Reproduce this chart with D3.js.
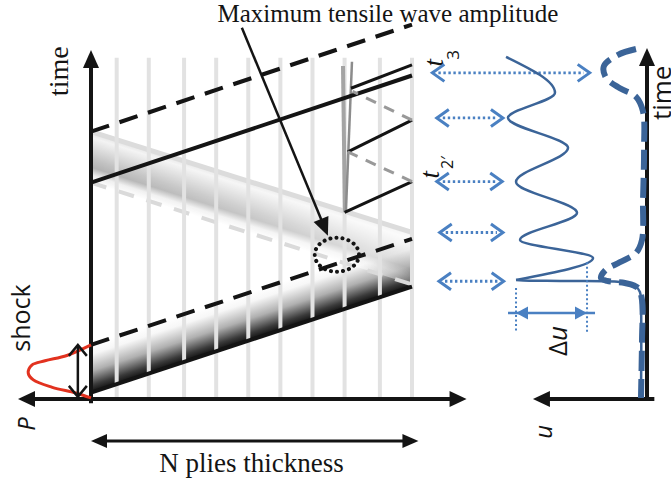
<!DOCTYPE html>
<html><head><meta charset="utf-8">
<script src="https://cdn.jsdelivr.net/npm/d3@7"></script>
<style>html,body{margin:0;padding:0;background:#fff;} svg{display:block;}</style>
</head><body>
<svg id="chart" width="671" height="480"></svg>
<script>
// Ply interfaces through the laminate thickness (0 = impacted face, 1 = rear face)
const plyInterfaces = [0.08, 0.18, 0.29, 0.39, 0.49, 0.59, 0.69, 0.79, 0.90, 1.0];

// Wave fronts in the thickness–time plane, as [depth, time]
const shockFront    = [[0, 0.06], [1, 1.06]];
const shockTail     = [[0, 0.51], [1, 1.51]];
const reflectedHead = [[0, 2.52], [1, 1.57]];
const reflectedTail = [[0, 2.04], [1, 1.08]];
const secondFront   = [[0, 2.04], [1, 3.05]];
const secondTail    = [[0, 2.52], [1, 3.53]];
const zigzagSolid   = [[[0.79, 1.76], [1, 2.05]], [[0.80, 2.33], [1, 2.63]], [[0.81, 2.93], [1, 3.15]]];
const zigzagDashed  = [[[1, 2.05], [0.80, 2.33]], [[1, 2.63], [0.815, 2.90]]];
const crackLines    = [[[0.785, 3.14], [0.791, 1.76]], [[0.813, 3.18], [0.794, 1.76]]];
const maxTension    = {depth: 0.766, time: 1.36, rDepth: 0.069, rTime: 0.16};

// Impact pressure pulse, as [pressure, time]
const pressurePulse = [[0, 0.51], [0.33, 0.41], [0.63, 0.36], [0.81, 0.32], [0.86, 0.245],
                       [0.79, 0.18], [0.53, 0.11], [0.21, 0.057], [0, 0.01]];

// Rear-face displacement history, as [u, time]
const rearDisplacement = [[0.959, 3.226], [0.626, 2.887], [0.946, 2.651], [0.537, 2.368], [0.891, 2.047],
                          [0.476, 1.755], [0.864, 1.50], [0.367, 1.33], [0.891, 1.123]];
const rearDisplacementTail = [[0.891, 1.123], [0.80, 1.116], [0.592, 1.113], [0.184, 1.104], [0.088, 1.075],
                              [0.048, 1.009], [0.041, 0.887], [0.041, 0.009]];
const damagedDisplacement = [[0.075, 3.30], [0.197, 3.245], [0.293, 3.14], [0.279, 3.03], [0.184, 2.93],
                             [0.075, 2.85], [0.027, 2.71], [0.020, 2.35], [0.027, 1.877], [0.034, 1.50],
                             [0.075, 1.377], [0.184, 1.29], [0.286, 1.21], [0.313, 1.14], [0.272, 1.113],
                             [0.15, 1.094], [0.061, 1.047], [0.034, 0.934], [0.034, 0.557], [0.041, 0.01]];

// Arrival times at the rear face linked to the displacement features
const arrivals = [
  {time: 3.075, from: 1.46, to: 0.39},
  {time: 2.65,  from: 1.43, to: 0.98},
  {time: 2.05,  from: 1.43, to: 0.985},
  {time: 1.57,  from: 1.41, to: 0.98},
  {time: 1.11,  from: 1.415, to: 0.975}
];
const deltaU = {from: 0.891, to: 0.408, time: 0.81, top1: 1.047, top2: 1.29, bottom: 0.63};

// Pick the first installed serif face (measured against a monospace fallback)
function firstInstalled(cands, generic) {
  const ctx = document.createElement('canvas').getContext('2d');
  const probe = 'Maximum tensile wave amplitude Wiggly 0123';
  ctx.font = '40px monospace';
  const base = ctx.measureText(probe).width;
  for (const c of cands) {
    ctx.font = `40px "${c}", monospace`;
    if (Math.abs(ctx.measureText(probe).width - base) > 0.5) return `"${c}", ${generic}`;
  }
  return generic;
}
const SERIF = firstInstalled(['Liberation Serif', 'Tinos', 'Times New Roman', 'Times', 'DejaVu Serif',
                              'Noto Serif', 'FreeSerif', 'Nimbus Roman', 'Nimbus Roman No9 L'], 'serif');
const SANS = '"Open Sans", "Liberation Sans", sans-serif';

// Scales
const x = d3.scaleLinear().domain([0, 1]).range([91, 412]);     // depth
const y = d3.scaleLinear().domain([0, 3.3]).range([399, 49]);   // time
const p = d3.scaleLinear().domain([0, 1]).range([91, 18]);      // pressure (points left)
const u = d3.scaleLinear().domain([0, 1]).range([647, 500]);    // displacement (points left)

const svg = d3.select('#chart');
const defs = svg.append('defs');
const INK = '#141414';
const BLUE = '#4a80c2';
const DARKBLUE = '#3b6498';

const px = d => [x(d[0]), y(d[1])];
const segLine = d3.line().x(d => x(d[0])).y(d => y(d[1]));

function bandGradient(id, top, bot, stops) {
  const a = px(top[0]), b = px(top[1]), c = px(bot[0]), d = px(bot[1]);
  const m = [(a[0] + b[0]) / 2, (a[1] + b[1]) / 2];
  const L = Math.hypot(d[0] - c[0], d[1] - c[1]);
  const ux = (d[0] - c[0]) / L, uy = (d[1] - c[1]) / L;
  const t = (m[0] - c[0]) * ux + (m[1] - c[1]) * uy;
  const f = [c[0] + ux * t, c[1] + uy * t];
  const g = defs.append('linearGradient').attr('id', id).attr('gradientUnits', 'userSpaceOnUse')
    .attr('x1', m[0]).attr('y1', m[1]).attr('x2', f[0]).attr('y2', f[1]);
  stops.forEach(s => g.append('stop').attr('offset', s[0]).attr('stop-color', s[1]));
}

function band(top, bot, fill, mask) {
  const pts = [px(top[0]), px(top[1]), px(bot[1]), px(bot[0])];
  const b = svg.append('path').attr('d', d3.line()(pts) + 'Z').attr('fill', fill);
  if (mask) b.attr('mask', mask);
}

function head(tip, from, len, half, color) {
  const L = Math.hypot(tip[0] - from[0], tip[1] - from[1]);
  const dx = (tip[0] - from[0]) / L, dy = (tip[1] - from[1]) / L;
  const bx = tip[0] - dx * len, by = tip[1] - dy * len;
  svg.append('path')
    .attr('d', `M${tip[0]},${tip[1]}L${bx - dy * half},${by + dx * half}L${bx + dy * half},${by - dx * half}Z`)
    .attr('fill', color);
}

function chevron(tip, from, len, half, color, w) {
  const L = Math.hypot(tip[0] - from[0], tip[1] - from[1]);
  const dx = (tip[0] - from[0]) / L, dy = (tip[1] - from[1]) / L;
  const bx = tip[0] - dx * len, by = tip[1] - dy * len;
  svg.append('path')
    .attr('d', `M${bx - dy * half},${by + dx * half}L${tip[0]},${tip[1]}L${bx + dy * half},${by - dx * half}`)
    .attr('fill', 'none').attr('stroke', color).attr('stroke-width', w)
    .attr('stroke-linejoin', 'miter').attr('stroke-linecap', 'butt');
}

function vtext(cx, cy, parts, anchor) {
  const t = svg.append('text').attr('transform', `translate(${cx},${cy}) rotate(-90)`)
    .attr('text-anchor', anchor || 'middle').attr('fill', INK);
  parts.forEach(pt => t.append('tspan').text(pt.s).style('font-family', pt.f).attr('font-size', pt.size)
    .attr('font-style', pt.it ? 'italic' : 'normal'));
  return t;
}

// Compressive shock band and reflected tensile band
bandGradient('gShock', shockTail, shockFront,
  [[0, '#ffffff'], [0.2, '#f7f7f7'], [0.55, '#b0b0b0'], [0.85, '#3a3a3a'], [1, '#101010']]);
bandGradient('gRefl', reflectedHead, reflectedTail,
  [[0, '#e0e0e0'], [0.12, '#f3f3f3'], [0.55, '#c0c0c0'], [0.7, '#b2b2b2'], [0.85, '#efefef'], [1, '#ffffff']]);
const fade = defs.append('linearGradient').attr('id', 'gFade').attr('gradientUnits', 'userSpaceOnUse')
  .attr('x1', x(0)).attr('x2', x(1)).attr('y1', 0).attr('y2', 0);
fade.append('stop').attr('offset', 0).attr('stop-color', '#fff');
fade.append('stop').attr('offset', 0.5).attr('stop-color', '#bbb');
fade.append('stop').attr('offset', 1).attr('stop-color', '#555');
defs.append('mask').attr('id', 'mFade').attr('maskUnits', 'userSpaceOnUse')
  .attr('x', 0).attr('y', 0).attr('width', 671).attr('height', 480)
  .append('rect').attr('x', 0).attr('y', 0).attr('width', 671).attr('height', 480).attr('fill', 'url(#gFade)');

band(shockTail, shockFront, 'url(#gShock)');
band(reflectedHead, reflectedTail, 'url(#gRefl)', 'url(#mFade)');
svg.append('path').attr('d', segLine(reflectedHead)).attr('stroke', '#dcdcdc').attr('stroke-width', 5).attr('fill', 'none');
svg.append('path').attr('d', segLine(reflectedTail)).attr('stroke', '#dadada').attr('stroke-width', 4)
  .attr('stroke-dasharray', '16,13').attr('fill', 'none');

// Ply interfaces
svg.selectAll('line.ply').data(plyInterfaces).join('line').attr('class', 'ply')
  .attr('x1', d => x(d)).attr('x2', d => x(d)).attr('y1', y(3.217)).attr('y2', y(0))
  .attr('stroke', '#e2e2e2').attr('stroke-width', 4);

// Delamination traces
svg.append('path').attr('d', segLine(crackLines[0])).attr('stroke', '#a4a4a4').attr('stroke-width', 4).attr('fill', 'none');
svg.append('path').attr('d', segLine(crackLines[1])).attr('stroke', '#8c8c8c').attr('stroke-width', 2.5).attr('fill', 'none');

// Wave fronts
const solid = (d, w) => svg.append('path').attr('d', segLine(d)).attr('stroke', INK).attr('stroke-width', w).attr('fill', 'none');
const dashed = (d, w, col, dash) => svg.append('path').attr('d', segLine(d)).attr('stroke', col).attr('stroke-width', w)
  .attr('stroke-dasharray', dash).attr('fill', 'none');
solid(shockFront, 4);
dashed(shockTail, 4, INK, '19,11');
solid(secondFront, 4);
dashed(secondTail, 4, INK, '19,11');
zigzagSolid.forEach(s => solid(s, 3));
zigzagDashed.forEach(s => dashed(s, 3, '#999999', '11,9'));

// Point of maximum tensile amplitude
svg.append('ellipse')
  .attr('cx', x(maxTension.depth)).attr('cy', y(maxTension.time))
  .attr('rx', x(maxTension.depth + maxTension.rDepth) - x(maxTension.depth))
  .attr('ry', y(maxTension.time) - y(maxTension.time + maxTension.rTime))
  .attr('fill', 'none').attr('stroke', INK).attr('stroke-width', 4)
  .attr('stroke-dasharray', '0.1,6').attr('stroke-linecap', 'round');

// Left axes
svg.append('line').attr('x1', x(0)).attr('x2', x(0)).attr('y1', y(-0.04)).attr('y2', y(3.2))
  .attr('stroke', INK).attr('stroke-width', 4);
head([x(0), y(3.29)], [x(0), y(0)], 18, 8, INK);
svg.append('line').attr('x1', p(0.9)).attr('x2', x(1.12)).attr('y1', y(0)).attr('y2', y(0))
  .attr('stroke', INK).attr('stroke-width', 4);
head([p(1), y(0)], [x(0), y(0)], 17, 8, INK);
head([x(1.17), y(0)], [x(0), y(0)], 17, 8, INK);

// Thickness dimension
const dimY = y(-0.396);
svg.append('line').attr('x1', x(0.04)).attr('x2', x(0.98)).attr('y1', dimY).attr('y2', dimY)
  .attr('stroke', INK).attr('stroke-width', 3);
head([x(0), dimY], [x(1), dimY], 16, 7, INK);
head([x(1.02), dimY], [x(0), dimY], 16, 7, INK);

// Impact pressure pulse
svg.append('path')
  .attr('d', d3.line().x(d => p(d[0])).y(d => y(d[1])).curve(d3.curveCatmullRom.alpha(0.5))(pressurePulse))
  .attr('fill', 'none').attr('stroke', '#e2321f').attr('stroke-width', 3);
const pa = p(0.18);
svg.append('line').attr('x1', pa).attr('x2', pa).attr('y1', y(0.5)).attr('y2', y(0.03))
  .attr('stroke', INK).attr('stroke-width', 2.5);
chevron([pa, y(0.51)], [pa, y(0)], 11, 9, INK, 2.5);
chevron([pa, y(0.02)], [pa, y(1)], 11, 9, INK, 2.5);

// Annotation
const aFrom = [x(0.47), y(3.5)], aTip = [x(0.738), y(1.54)];
const aL = Math.hypot(aTip[0] - aFrom[0], aTip[1] - aFrom[1]);
svg.append('line').attr('x1', aFrom[0]).attr('y1', aFrom[1])
  .attr('x2', aTip[0] - (aTip[0] - aFrom[0]) / aL * 12).attr('y2', aTip[1] - (aTip[1] - aFrom[1]) / aL * 12)
  .attr('stroke', INK).attr('stroke-width', 2.5);
head(aTip, aFrom, 18, 8, INK);
svg.append('text').attr('x', x(0.925)).attr('y', y(3.556)).attr('text-anchor', 'middle')
  .style('font-family', SERIF).attr('font-size', 25).attr('fill', INK).text('Maximum tensile wave amplitude');

// Labels on the thickness–time plane
vtext(x(-0.072), y(3.09), [{s: 'time', f: SERIF, size: 28}]);
vtext(p(0.836), y(0.764), [{s: 'shock', f: SANS, size: 25}]);
vtext(p(0.767), y(-0.236), [{s: 'P', f: SANS, size: 24, it: true}]);
svg.append('text').attr('x', x(0.5)).attr('y', y(-0.69)).attr('text-anchor', 'middle')
  .style('font-family', SERIF).attr('font-size', 27).attr('fill', INK).text('N plies thickness');
vtext(x(1.097), y(3.17), [{s: 't', f: SERIF, size: 27, it: true}]);
vtext(x(1.146), y(3.245), [{s: '3', f: SANS, size: 17}]);
vtext(x(1.084), y(2.115), [{s: 't', f: SERIF, size: 27, it: true}]);
vtext(x(1.128), y(2.23), [{s: '2\u2032', f: SANS, size: 16}]);

// Arrival links between the two panels
arrivals.forEach(a => {
  const yy = y(a.time), x0 = u(a.from), x1 = u(a.to);
  svg.append('line').attr('x1', x0 + 6).attr('x2', x1 - 6).attr('y1', yy).attr('y2', yy)
    .attr('stroke', BLUE).attr('stroke-width', 2.8).attr('stroke-dasharray', '2.4,2.6');
  chevron([x0, yy], [x1, yy], 12, 8.5, BLUE, 3);
  chevron([x1, yy], [x0, yy], 12, 8.5, BLUE, 3);
});

// Rear-face displacement panel axes
svg.append('line').attr('x1', u(0)).attr('x2', u(0)).attr('y1', y(-0.01)).attr('y2', y(3.2))
  .attr('stroke', INK).attr('stroke-width', 4);
head([u(0), y(3.31)], [u(0), y(0)], 18, 8, INK);
svg.append('line').attr('x1', u(-0.05)).attr('x2', u(0.7)).attr('y1', y(0)).attr('y2', y(0))
  .attr('stroke', INK).attr('stroke-width', 4);
head([u(0.776), y(0)], [u(0), y(0)], 17, 8, INK);

// Displacement histories
svg.append('path')
  .attr('d', d3.line().x(d => u(d[0])).y(d => y(d[1])).curve(d3.curveCatmullRom.alpha(0.5))(damagedDisplacement))
  .attr('fill', 'none').attr('stroke', DARKBLUE).attr('stroke-width', 6).attr('stroke-dasharray', '20,8');
svg.append('path')
  .attr('d', d3.line().x(d => u(d[0])).y(d => y(d[1])).curve(d3.curveMonotoneY)(rearDisplacement.slice().sort((a, b) => y(a[1]) - y(b[1]))))
  .attr('fill', 'none').attr('stroke', DARKBLUE).attr('stroke-width', 2.5);
svg.append('path')
  .attr('d', d3.line().x(d => u(d[0])).y(d => y(d[1])).curve(d3.curveCatmullRom.alpha(0.5))(rearDisplacementTail))
  .attr('fill', 'none').attr('stroke', DARKBLUE).attr('stroke-width', 2.5);

// Displacement amplitude marker
[[deltaU.from, deltaU.top1], [deltaU.to, deltaU.top2]].forEach(v => {
  svg.append('line').attr('x1', u(v[0])).attr('x2', u(v[0])).attr('y1', y(v[1])).attr('y2', y(deltaU.bottom))
    .attr('stroke', BLUE).attr('stroke-width', 2).attr('stroke-dasharray', '2,2.5');
});
const dy0 = y(deltaU.time);
svg.append('line').attr('x1', u(deltaU.from) - 8).attr('x2', u(deltaU.to) + 8).attr('y1', dy0).attr('y2', dy0)
  .attr('stroke', BLUE).attr('stroke-width', 2.5);
head([u(deltaU.from), dy0], [u(deltaU.to), dy0], 12, 6.5, BLUE);
head([u(deltaU.to), dy0], [u(deltaU.from), dy0], 12, 6.5, BLUE);

vtext(u(0.544), y(0.547), [{s: '\u0394', f: SANS, size: 26}, {s: 'u', f: SANS, size: 26, it: true}]);
vtext(u(0.646), y(-0.31), [{s: 'u', f: SANS, size: 24, it: true}]);
vtext(u(-0.163), y(2.887), [{s: 'time', f: SANS, size: 26}]);
</script>
</body></html>
